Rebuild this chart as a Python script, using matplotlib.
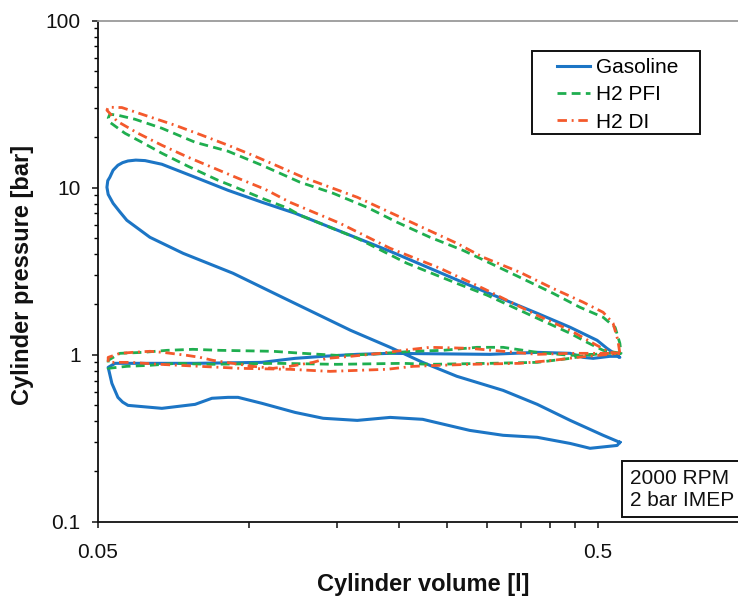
import matplotlib
matplotlib.use("Agg")
import matplotlib.pyplot as plt
from matplotlib.patches import Rectangle
from matplotlib.ticker import FixedLocator, NullFormatter

plt.rcParams["font.family"] = ["Liberation Sans", "DejaVu Sans"]

# Gasoline p-V loop (volume [l], pressure [bar])
gas_vol = [0.553, 0.512, 0.440, 0.378, 0.323, 0.261, 0.223, 0.192, 0.160, 0.117,
           0.0931, 0.0740, 0.0635, 0.0571, 0.0552, 0.0536, 0.0524, 0.0521, 0.0523, 0.0528,
           0.0536, 0.0548, 0.0560, 0.0574, 0.0595, 0.0621,
           0.0671, 0.0782, 0.091, 0.1064, 0.1239, 0.192, 0.277, 0.378, 0.440, 0.498,
           0.521, 0.546, 0.553,
           0.546, 0.528, 0.489, 0.467, 0.440, 0.378, 0.304, 0.192, 0.165, 0.141,
           0.1239, 0.1064, 0.0782, 0.0574, 0.0541, 0.0524,
           0.0533, 0.0548, 0.0560, 0.0574, 0.0671, 0.0782, 0.0845, 0.091, 0.0953, 0.1064,
           0.1239, 0.141, 0.165, 0.192, 0.223, 0.261, 0.277, 0.323, 0.378, 0.440,
           0.482, 0.546, 0.553]
gas_p = [0.2985, 0.329, 0.404, 0.504, 0.611, 0.742, 0.899, 1.106, 1.398, 2.20,
         3.07, 4.04, 5.04, 6.37, 7.2, 8.05, 9.1, 10.04, 11.0, 11.53,
         12.7, 13.60, 14.1, 14.43, 14.6, 14.5,
         13.79, 11.53, 9.63, 8.17, 7.02, 4.155, 2.60, 1.767, 1.457, 1.218,
         1.091, 0.990, 0.963,
         0.977, 0.977, 0.950, 0.963, 1.018, 1.032, 1.004, 1.018, 1.004, 0.977,
         0.950, 0.899, 0.887, 0.887, 0.887, 0.839,
         0.673, 0.555, 0.52, 0.497, 0.477, 0.504, 0.548, 0.555, 0.555, 0.511,
         0.451, 0.416, 0.404, 0.421, 0.410, 0.367, 0.352, 0.329, 0.320, 0.294,
         0.275, 0.286, 0.2985]

# H2 port fuel injection
pfi_vol = [0.556, 0.512, 0.4753, 0.440, 0.378, 0.2999, 0.261, 0.2075, 0.165, 0.1268,
           0.1199, 0.1064, 0.0953, 0.0869, 0.0757, 0.0671, 0.0612, 0.0566, 0.0528, 0.0524,
           0.0528, 0.0548, 0.0593, 0.0671, 0.0782, 0.091, 0.1064, 0.1268, 0.1476, 0.1726,
           0.1982, 0.2307, 0.2685, 0.2904, 0.3491, 0.4064, 0.4602, 0.512, 0.541, 0.553,
           0.556,
           0.512, 0.440, 0.378, 0.323, 0.2864, 0.2449, 0.2133, 0.1750, 0.1503, 0.1285,
           0.1119, 0.0877, 0.0774, 0.0687, 0.0615, 0.0553, 0.0524,
           0.0524, 0.0571, 0.0635, 0.0719, 0.0837, 0.1140, 0.1503, 0.2037, 0.2307, 0.304,
           0.378, 0.440, 0.4753, 0.512, 0.556]
pfi_p = [1.018, 1.061, 1.185, 1.341, 1.650, 2.27, 2.67, 3.52, 4.97, 6.83,
         7.52, 8.63, 9.90, 11.06, 13.41, 16.05, 18.67, 21.14, 24.60, 26.0,
         27.48, 27.10, 25.64, 22.65, 18.67, 16.50, 13.60, 10.76, 9.25, 7.62,
         6.20, 5.04, 4.21, 3.77, 2.90, 2.33, 1.920, 1.673, 1.457, 1.169,
         1.018,
         1.004, 0.990, 1.032, 1.106, 1.106, 1.061, 1.047, 1.004, 0.990, 1.018,
         1.047, 1.061, 1.076, 1.061, 1.032, 1.018, 0.924,
         0.828, 0.851, 0.863, 0.887, 0.875, 0.887, 0.875, 0.887, 0.875, 0.887,
         0.899, 0.950, 0.990, 1.018, 1.018]

# H2 direct injection
di_vol = [0.553, 0.528, 0.489, 0.440, 0.378, 0.2972, 0.2415, 0.192, 0.1524, 0.121,
          0.1079, 0.0953, 0.0845, 0.0757, 0.0671, 0.0601, 0.0546, 0.0521,
          0.0524, 0.0558, 0.0629, 0.0713, 0.0807, 0.091, 0.1030, 0.1146, 0.1285, 0.165,
          0.2075, 0.261, 0.2944, 0.3491, 0.4064, 0.467, 0.512, 0.536, 0.548, 0.553,
          0.440, 0.378, 0.277, 0.2307, 0.2037, 0.1832, 0.160, 0.1436, 0.1346, 0.121,
          0.1119, 0.1021, 0.0931, 0.0849, 0.0800, 0.0753, 0.0674, 0.0635, 0.0587, 0.0553,
          0.0524,
          0.0524, 0.0580, 0.0665, 0.0800, 0.0961, 0.121, 0.1455, 0.165, 0.1892, 0.2133,
          0.2415, 0.277, 0.3491, 0.4064, 0.4539, 0.553]
di_p = [1.018, 1.032, 1.169, 1.398, 1.719, 2.46, 3.29, 4.33, 6.11, 8.17,
        9.77, 11.37, 13.23, 15.19, 17.92, 21.14, 24.95, 29.03,
        30.26, 30.13, 26.73, 23.61, 20.57, 17.92, 15.40, 13.41, 11.53, 8.75,
        6.37, 4.64, 3.83, 3.11, 2.49, 2.06, 1.792, 1.540, 1.218, 1.018,
        1.018, 1.004, 1.091, 1.106, 1.061, 1.018, 0.977, 0.950, 0.899, 0.851,
        0.828, 0.851, 0.887, 0.924, 0.963, 0.990, 1.032, 1.047, 1.032, 1.018,
        0.963,
        0.899, 0.899, 0.875, 0.851, 0.828, 0.817, 0.794, 0.805, 0.817, 0.851,
        0.863, 0.875, 0.887, 0.924, 0.963, 1.018]

y_ticks = [0.1, 1, 10, 100]
y_labels = ["0.1", "1", "10", "100"]
x_ticks = [0.05, 0.5]
x_labels = ["0.05", "0.5"]
x_minor = [0.1, 0.15, 0.2, 0.25, 0.3, 0.35, 0.4, 0.45]

W, H = 738, 596
fig = plt.figure(figsize=(W / 100, H / 100), dpi=100)
ax = fig.add_axes([98 / W, 1 - 521.7 / H, 650.5 / W, 501.2 / H])

ax.plot(gas_vol, gas_p, color="#1c75c5", lw=2.2, label="Gasoline", zorder=3)
ax.plot(pfi_vol, pfi_p, color="#1fae4f", lw=2.0, dashes=(3.2, 1.9), label="H2 PFI", zorder=4)
ax.plot(di_vol, di_p, color="#f4592c", lw=2.0, dashes=(3.4, 1.7, 0.7, 1.7), label="H2 DI", zorder=5)

ax.set_xscale("log")
ax.set_yscale("log")
ax.set_xlim(0.05, 1.0)
ax.set_ylim(0.1, 100)

ax.set_xticks(x_ticks, x_labels)
ax.xaxis.set_minor_locator(FixedLocator(x_minor))
ax.xaxis.set_minor_formatter(NullFormatter())
ax.set_yticks(y_ticks, y_labels)
y_minor = [k * d for d in [0.1, 1, 10] for k in range(2, 10)]
ax.yaxis.set_minor_locator(FixedLocator(y_minor))
ax.yaxis.set_minor_formatter(NullFormatter())

ax.tick_params(axis="x", which="both", direction="out", length=4.5, width=1.1,
               labelsize=15, pad=11, colors="#111111")
ax.tick_params(axis="y", which="major", direction="out", length=4.5, width=1.1,
               labelsize=15, pad=8, colors="#111111")
ax.tick_params(axis="y", which="minor", direction="out", length=3, width=1.0)

for side in ["left", "bottom"]:
    ax.spines[side].set_linewidth(1.3)
    ax.spines[side].set_color("#111111")
ax.spines["top"].set_color("#9a9a9a")
ax.spines["top"].set_linewidth(1.3)
ax.spines["right"].set_visible(False)

fig.text(423 / W, 1 - 585 / H, "Cylinder volume [l]", ha="center", va="center",
         fontsize=17, fontweight="bold", color="#111111")
fig.text(23 / W, 1 - 275 / H, "Cylinder pressure [bar]", ha="center", va="center",
         rotation=90, fontsize=17, fontweight="bold", color="#111111")

# legend with a hand-placed frame
ax.add_patch(Rectangle((532 / W, 1 - 134 / H), 168 / W, 83 / H,
                       transform=fig.transFigure, facecolor="white",
                       edgecolor="#111111", lw=1.4, zorder=10, clip_on=False))
leg = ax.legend(loc="upper left", bbox_to_anchor=(557 / W, 1 - 58 / H),
                bbox_transform=fig.transFigure, frameon=False, fontsize=15,
                handlelength=1.6, handletextpad=0.25, labelspacing=0.4,
                borderpad=0, borderaxespad=0)
leg.set_zorder(11)

# operating point box
ax.add_patch(Rectangle((622 / W, 1 - 517 / H), 130 / W, 56 / H,
                       transform=fig.transFigure, facecolor="white",
                       edgecolor="#111111", lw=1.4, zorder=10, clip_on=False))
fig.text(630 / W, 1 - 478 / H, "2000 RPM", ha="left", va="center", fontsize=15,
         color="#111111", zorder=11)
fig.text(630 / W, 1 - 501 / H, "2 bar IMEP", ha="left", va="center", fontsize=15,
         color="#111111", zorder=11)

fig.savefig("out.png", dpi=100)
